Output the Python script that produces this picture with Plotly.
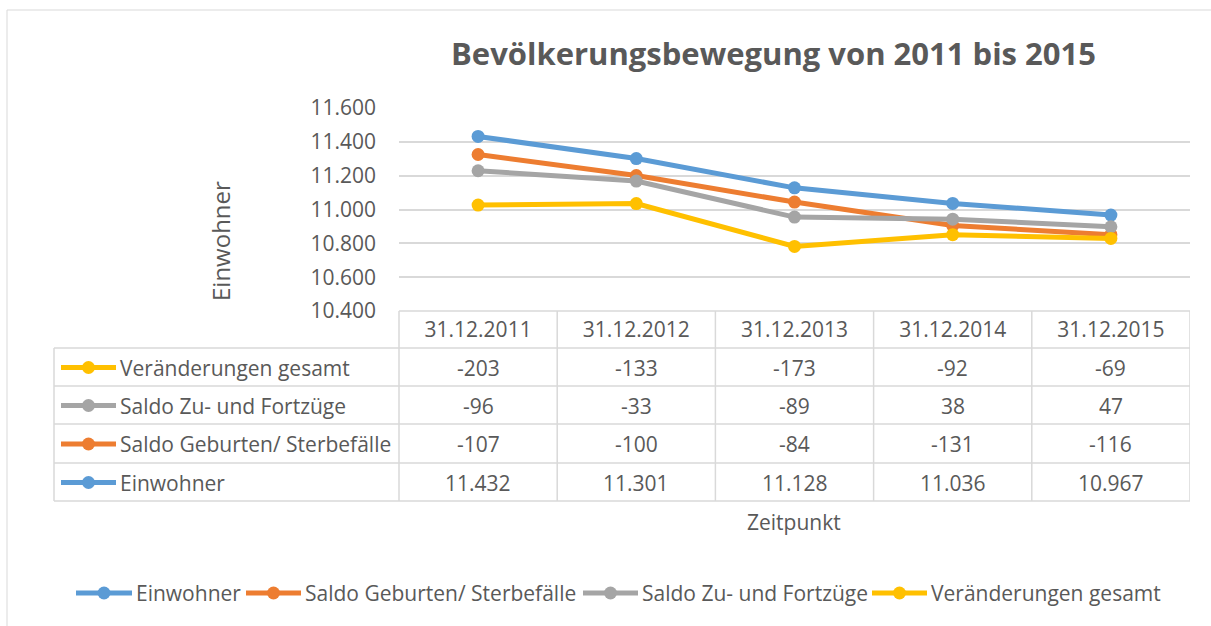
import plotly.graph_objects as go

# ---- data ----
dates = ["31.12.2011", "31.12.2012", "31.12.2013", "31.12.2014", "31.12.2015"]
einwohner = [11432, 11301, 11128, 11036, 10967]
saldo_geburten = [-107, -100, -84, -131, -116]
saldo_zuzug = [-96, -33, -89, 38, 47]
veraenderungen = [-203, -133, -173, -92, -69]

names = ["Einwohner", "Saldo Geburten/ Sterbefälle", "Saldo Zu- und Fortzüge", "Veränderungen gesamt"]
series = [einwohner, saldo_geburten, saldo_zuzug, veraenderungen]
colors = ["#5B9BD5", "#ED7D31", "#A5A5A5", "#FFC000"]

W, H = 1211, 626
TXT = "#595959"
GRID = "#D9D9D9"
FONT = "Open Sans"
FS = 21


def px(x):
    return x / W


def py(y):
    return 1 - y / H


def fmt(v):
    return f"{v:,}".replace(",", ".")


fig = go.Figure()
for name, vals, col in zip(names, series, colors):
    fig.add_trace(go.Scatter(
        x=list(range(len(dates))), y=vals, name=name,
        stackgroup="one", fill="none", mode="lines+markers",
        line=dict(color=col, width=5), marker=dict(color=col, size=13),
        hoverinfo="skip", showlegend=False,
    ))

shapes = []
annotations = []


def key(x0, x1, yc, col):
    xm = (x0 + x1) / 2
    shapes.append(dict(type="line", xref="paper", yref="paper",
                       x0=px(x0), x1=px(x1), y0=py(yc), y1=py(yc),
                       line=dict(color=col, width=5)))
    shapes.append(dict(type="circle", xref="paper", yref="paper",
                       x0=px(xm - 6.5), x1=px(xm + 6.5), y0=py(yc - 6.5), y1=py(yc + 6.5),
                       fillcolor=col, line=dict(color=col, width=0)))


# outer chart border
shapes.append(dict(type="rect", xref="paper", yref="paper",
                   x0=px(7), x1=px(1216), y0=py(10), y1=py(632),
                   line=dict(color=GRID, width=1)))

# table geometry
left_x = 54
col0_x = 399
right_x = 1190
row_tops = [348, 386, 424, 463, 501]
header_top = 311
line_style = dict(color=GRID, width=1.5)

shapes.append(dict(type="line", xref="paper", yref="paper",
                   x0=px(col0_x), x1=px(right_x), y0=py(header_top), y1=py(header_top), line=line_style))
for yy in row_tops:
    shapes.append(dict(type="line", xref="paper", yref="paper",
                       x0=px(left_x), x1=px(right_x), y0=py(yy), y1=py(yy), line=line_style))
shapes.append(dict(type="line", xref="paper", yref="paper",
                   x0=px(left_x), x1=px(left_x), y0=py(row_tops[0]), y1=py(row_tops[-1]), line=line_style))
shapes.append(dict(type="line", xref="paper", yref="paper",
                   x0=px(col0_x), x1=px(col0_x), y0=py(header_top), y1=py(row_tops[-1]), line=line_style))
for i in range(len(dates)):
    shapes.append(dict(type="line", xref="x", yref="paper",
                       x0=i + 0.5, x1=i + 0.5, y0=py(header_top), y1=py(row_tops[-1]), line=line_style))

# table rows (reverse order of series)
table_order = [3, 2, 1, 0]
for r, si in enumerate(table_order):
    yc = (row_tops[r] + row_tops[r + 1]) / 2 + 0.5
    key(61, 116, yc, colors[si])
    annotations.append(dict(xref="paper", yref="paper", x=px(118), y=py(yc),
                            xanchor="left", yanchor="middle", showarrow=False,
                            text=names[si], font=dict(size=FS, color=TXT, family=FONT)))
    for i, v in enumerate(series[si]):
        annotations.append(dict(xref="x", yref="paper", x=i, y=py(yc),
                                xanchor="center", yanchor="middle", showarrow=False,
                                text=fmt(v), font=dict(size=FS, color=TXT, family=FONT)))

# legend (bottom)
legend_keys = [(76, 132), (246, 301), (583, 638), (872, 927)]
legend_y = 593
for si, (k0, k1) in enumerate(legend_keys):
    key(k0, k1, legend_y, colors[si])
    annotations.append(dict(xref="paper", yref="paper", x=px(k1 + 2), y=py(legend_y),
                            xanchor="left", yanchor="middle", showarrow=False,
                            text=names[si], font=dict(size=FS, color=TXT, family=FONT)))

# title
annotations.append(dict(xref="paper", yref="paper", x=px(773), y=py(53),
                        xanchor="center", yanchor="middle", showarrow=False,
                        text="<b>Bevölkerungsbewegung von 2011 bis 2015</b>",
                        font=dict(size=31, color=TXT, family=FONT)))
# axis titles
annotations.append(dict(xref="paper", yref="paper", x=px(220), y=py(241),
                        xanchor="center", yanchor="middle", showarrow=False, textangle=-90,
                        text="Einwohner", font=dict(size=24, color=TXT, family=FONT)))
annotations.append(dict(xref="paper", yref="paper", x=px(794), y=py(522),
                        xanchor="center", yanchor="middle", showarrow=False,
                        text="Zeitpunkt", font=dict(size=FS, color=TXT, family=FONT)))

fig.update_layout(
    width=W, height=H, autosize=False,
    margin=dict(l=0, r=0, t=0, b=0, pad=0, autoexpand=False),
    paper_bgcolor="white", plot_bgcolor="white",
    separators=",.",
    font=dict(family=FONT, color=TXT, size=FS),
    showlegend=False,
    xaxis=dict(domain=[px(col0_x), px(right_x)], range=[-0.5, len(dates) - 0.5],
               tickmode="array", tickvals=list(range(len(dates))), ticktext=dates,
               showgrid=False, zeroline=False, showline=False, ticks="", automargin=False,
               tickfont=dict(size=FS, color=TXT, family=FONT), ticklabelstandoff=4),
    yaxis=dict(domain=[py(header_top), py(108)], range=[10400, 11600], dtick=200,
               tickformat=",d", showgrid=True, gridcolor=GRID, gridwidth=1.5,
               zeroline=False, showline=False, ticks="", automargin=False,
               tickfont=dict(size=FS, color=TXT, family=FONT), ticklabelstandoff=22),
    shapes=shapes, annotations=annotations,
)

fig.write_html("out.html", config={"responsive": False, "displayModeBar": False},
               post_script="document.body.style.margin='0';document.body.style.overflow='hidden';")
